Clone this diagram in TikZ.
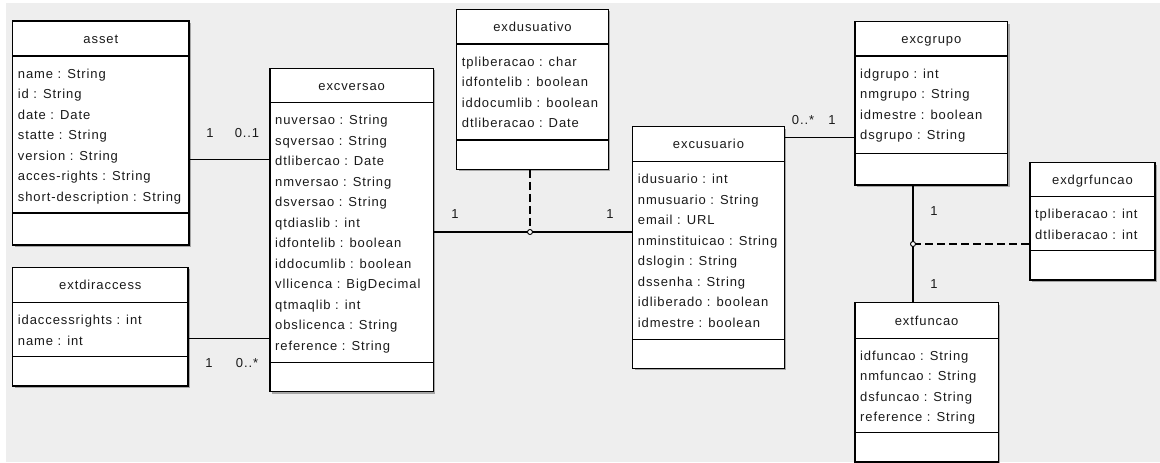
\documentclass[tikz,border=0pt]{standalone}
\usepackage{fontspec}
\setmainfont{Liberation Sans}[LetterSpace=7]
\definecolor{canvas}{HTML}{EEEEEE}
\definecolor{ink}{HTML}{1A1A1A}
\tikzset{
  every node/.style={font=\fontsize{13}{15}\selectfont, text=ink},
  classbox/.style={draw=black, fill=white, line width=1.3pt, inner sep=0pt, rectangle},
  sepline/.style={line width=1.1pt},
  attr/.style={anchor=base west, inner sep=0pt},
  ctitle/.style={anchor=base, inner sep=0pt},
  mult/.style={anchor=base, inner sep=0pt},
  assoc/.style={line width=1.1pt},
  classlink/.style={line width=1.1pt, dash pattern=on 8pt off 4pt},
  junction/.style={circle, draw=black, fill=white, line width=0.9pt, inner sep=0pt, minimum size=5pt},
  boxshadow/.style={fill=black!35},
}
% \umlclass{name}{left}{top}{right}{bottom}{title rule}{attribute rule}{title}{attributes}
\newcommand\umlclass[9]{%
  \fill[boxshadow] (#2+2,#3+2) rectangle (#4+2,#5+2);
  \pgfmathsetmacro\boxw{#4-#2}%
  \pgfmathsetmacro\boxh{#5-#3}%
  \node[classbox, minimum width=\boxw pt, minimum height=\boxh pt] (#1) at ({(#2+#4)/2},{(#3+#5)/2}) {};
  \draw[sepline] (#2,#6) -- (#4,#6);
  \draw[sepline] (#2,#7) -- (#4,#7);
  \node[ctitle] (#1-t) at ({(#2+#4)/2},{(#3+#6)/2+4.5}) {#8};
  \foreach \a [count=\i from 0] in {#9}
    \node[attr] (#1-a\i) at (#2+5,#6+22+\i*20.5) {\a};
}
\begin{document}
\begin{tikzpicture}[x=1pt, y=-1pt]
\useasboundingbox (0,0) rectangle (1160,463);
\fill[white] (0,0) rectangle (1160,463);
\fill[canvas] (6,3) rectangle (1160,462);

% classes
\umlclass{asset}{12.7}{21}{189}{245}{56}{213}{asset}
  {name : String, id : String, date : Date, statte : String, version : String, acces-rights : String, short-description : String}
\umlclass{extdiraccess}{12.7}{267.3}{188}{386}{302.7}{356.7}{extdiraccess}
  {idaccessrights : int, name : int}
\umlclass{excversao}{270}{68.3}{433.3}{391.7}{102.7}{362.7}{excversao}
  {nuversao : String, sqversao : String, dtlibercao : Date, nmversao : String, dsversao : String, qtdiaslib : int, idfontelib : boolean, iddocumlib : boolean, vllicenca : BigDecimal, qtmaqlib : int, obslicenca : String, reference : String}
\umlclass{exdusuativo}{456.7}{9.3}{608.3}{169.3}{44}{140}{exdusuativo}
  {tpliberacao : char, idfontelib : boolean, iddocumlib : boolean, dtliberacao : Date}
\umlclass{excusuario}{632.7}{126.7}{784.3}{368.3}{161.7}{339.3}{excusuario}
  {idusuario : int, nmusuario : String, email : URL, nminstituicao : String, dslogin : String, dssenha : String, idliberado : boolean, idmestre : boolean}
\umlclass{excgrupo}{855}{21.7}{1007.7}{185}{56}{153.3}{excgrupo}
  {idgrupo : int, nmgrupo : String, idmestre : boolean, dsgrupo : String}
\umlclass{exdgrfuncao}{1030}{162.7}{1155}{280}{196.7}{250.7}{exdgrfuncao}
  {tpliberacao : int, dtliberacao : int}
\umlclass{extfuncao}{855}{302.7}{998.3}{462}{338.3}{432.7}{extfuncao}
  {idfuncao : String, nmfuncao : String, dsfuncao : String, reference : String}

% associations
\draw[assoc] (asset.east |- 0,159.3) -- (excversao.west |- 0,159.3);
\draw[assoc] (extdiraccess.east |- 0,338.3) -- (excversao.west |- 0,338.3);
\draw[assoc] (excversao.east |- 0,232) -- (excusuario.west |- 0,232);
\draw[assoc] (excusuario.east |- 0,137.7) -- (excgrupo.west |- 0,137.7);
\draw[assoc] (913,185) coordinate (g1) -- (913,302.7) coordinate (f1);

% association classes
\coordinate (j1) at (530,232);
\coordinate (j2) at (913,244);
\draw[classlink] (exdusuativo.south -| j1) -- (j1);
\draw[classlink] (j2) -- (exdgrfuncao.west |- j2);
\node[junction] (j1n) at (j1) {};
\node[junction] (j2n) at (j2) {};

% multiplicities
\node[mult] (m1) at (210,137.5) {1};
\node[mult] (m2) at (247,137.5) {0..1};
\node[mult] (m3) at (209,367.5) {1};
\node[mult] (m4) at (247,367.5) {0..*};
\node[mult] (m5) at (455,218) {1};
\node[mult] (m6) at (610,218) {1};
\node[mult] (m7) at (803,124.5) {0..*};
\node[mult] (m8) at (832,124.5) {1};
\node[mult] (m9) at (934,215.5) {1};
\node[mult] (m10) at (934,288.5) {1};
\end{tikzpicture}
\end{document}
